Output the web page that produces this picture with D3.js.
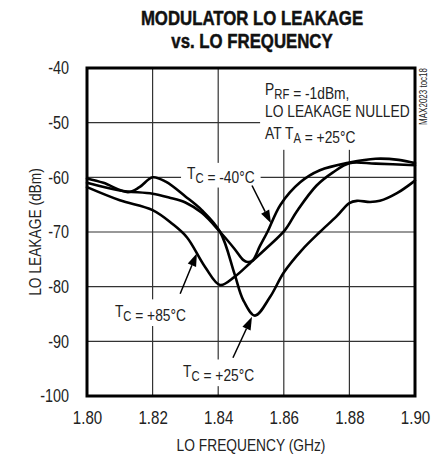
<!DOCTYPE html>
<html>
<head>
<meta charset="utf-8">
<script src="https://cdn.jsdelivr.net/npm/d3@7"></script>
<style>
  html, body { margin: 0; padding: 0; background: #fff; }
  svg { display: block; }
  text { font-family: "Liberation Sans", Arial, sans-serif; fill: #222; }
</style>
</head>
<body>
<svg id="chart" width="440" height="460"></svg>
<script>
// ---- data ----
const xTicks = [1.80, 1.82, 1.84, 1.86, 1.88, 1.90];
const yTicks = [-40, -50, -60, -70, -80, -90, -100];
const xTickLabels = ["1.80", "1.82", "1.84", "1.86", "1.88", "1.90"];
const yTickLabels = ["-40", "-50", "-60", "-70", "-80", "-90", "-100"];

// T_C = +25°C
const freq25 = [1.800, 1.805, 1.8125, 1.816, 1.820, 1.824, 1.830, 1.835, 1.8406, 1.845, 1.8476, 1.8512, 1.8558, 1.860, 1.8655, 1.871, 1.876, 1.880, 1.8823, 1.8863, 1.8893, 1.8945, 1.900];
const leak25 = [-60.2, -61.0, -62.7, -61.8, -60.0, -60.8, -63.5, -66.0, -70.0, -77.7, -82.4, -85.3, -81.9, -77.4, -73.3, -70.0, -67.2, -64.7, -64.3, -64.5, -64.3, -62.9, -60.6];

// T_C = -40°C
const freqM40 = [1.800, 1.810, 1.820, 1.825, 1.830, 1.835, 1.8406, 1.845, 1.8476, 1.849, 1.8505, 1.8527, 1.855, 1.859, 1.865, 1.871, 1.880, 1.888, 1.895, 1.900];
const leakM40 = [-61.0, -62.4, -63.0, -63.7, -64.6, -66.5, -70.0, -73.1, -75.1, -75.5, -75.2, -72.6, -70.0, -65.0, -60.9, -58.7, -57.3, -56.6, -56.8, -57.4];

// T_C = +85°C
const freq85 = [1.800, 1.810, 1.820, 1.826, 1.8305, 1.836, 1.8406, 1.845, 1.8497, 1.855, 1.8604, 1.864, 1.870, 1.875, 1.880, 1.888, 1.900];
const leak85 = [-61.8, -64.2, -66.0, -68.5, -71.0, -76.4, -79.7, -78.2, -75.7, -72.8, -69.6, -66.2, -61.5, -59.1, -57.4, -57.5, -57.8];

const seriesNames = ["+25", "-40", "+85"];

// ---- layout ----
const svg = d3.select("#chart");
const plot = { left: 87, right: 415, top: 68, bottom: 396 };
const x = d3.scaleLinear().domain([1.80, 1.90]).range([plot.left, plot.right]);
const y = d3.scaleLinear().domain([-100, -40]).range([plot.bottom, plot.top]);
const NARROW = 0.81;

// title
const title = svg.append("g").style("font-weight", "bold").style("font-size", "21px");
title.append("g").attr("transform", "translate(252,25) scale(0.8,1)")
  .append("text").attr("text-anchor", "middle").style("fill", "#111")
  .attr("stroke", "#111").attr("stroke-width", 0.5).text("MODULATOR LO LEAKAGE");
title.append("g").attr("transform", "translate(252,48) scale(0.8,1)")
  .append("text").attr("text-anchor", "middle").style("fill", "#111")
  .attr("stroke", "#111").attr("stroke-width", 0.5).text("vs. LO FREQUENCY");

// gridlines
const grid = svg.append("g");
grid.selectAll(".vg").data(xTicks.slice(1, -1)).enter().append("line")
  .attr("x1", d => x(d)).attr("x2", d => x(d))
  .attr("y1", plot.top).attr("y2", plot.bottom)
  .attr("stroke", "#333").attr("stroke-width", 1.2);
grid.selectAll(".hg").data(yTicks.slice(1, -1)).enter().append("line")
  .attr("y1", d => y(d)).attr("y2", d => y(d))
  .attr("x1", plot.left).attr("x2", plot.right)
  .attr("stroke", "#333").attr("stroke-width", 1.2);

// layers
const boxLayer = svg.append("g");
const curveLayer = svg.append("g");
const textLayer = svg.append("g");

function addLabel(g, xv, yv, parts, size) {
  const wrap = g.append("g").attr("transform", `translate(${x(xv)},${y(yv)}) scale(${NARROW},1)`);
  const t = wrap.append("text").style("font-size", size + "px");
  parts.forEach(p => {
    if (p.sub) {
      t.append("tspan").attr("dy", 4).style("font-size", (size * 0.82) + "px").text(p.sub);
      t.append("tspan").attr("dy", -4).text("");
    } else {
      t.append("tspan").text(p.t);
    }
  });
  return wrap;
}
function whiteBox(node, padX, padY, extra) {
  const b = node.getBBox();
  const e = extra || {};
  boxLayer.append("rect")
    .attr("x", b.x - padX - (e.l || 0)).attr("y", b.y - padY - (e.t || 0))
    .attr("width", b.width + 2 * padX + (e.l || 0) + (e.r || 0))
    .attr("height", b.height + 2 * padY + (e.t || 0) + (e.b || 0))
    .attr("fill", "#fff");
}

// conditions block
const cond = textLayer.append("g");
addLabel(cond, 1.8543, -44.9, [{t: "P"}, {sub: "RF"}, {t: " = -1dBm,"}], 17);
addLabel(cond, 1.8543, -48.9, [{t: "LO LEAKAGE NULLED"}], 17);
addLabel(cond, 1.8543, -52.9, [{t: "AT T"}, {sub: "A"}, {t: " = +25°C"}], 17);
whiteBox(cond.node(), 5, 4, {t: 10});

// curve labels
const lM40 = textLayer.append("g");
addLabel(lM40, 1.8305, -60.35, [{t: "T"}, {sub: "C"}, {t: " = -40°C"}], 17);
whiteBox(lM40.node(), 6, 1);
const l85 = textLayer.append("g");
addLabel(l85, 1.8085, -85.5, [{t: "T"}, {sub: "C"}, {t: " = +85°C"}], 17);
whiteBox(l85.node(), 5, 2);
const l25 = textLayer.append("g");
addLabel(l25, 1.8293, -96.5, [{t: "T"}, {sub: "C"}, {t: " = +25°C"}], 17);
whiteBox(l25.node(), 5, 2);

// curves
const line = d3.line().x(d => x(d[0])).y(d => y(d[1])).curve(d3.curveCatmullRom.alpha(0.5));
const series = [d3.zip(freq25, leak25), d3.zip(freqM40, leakM40), d3.zip(freq85, leak85)];
curveLayer.selectAll("path").data(series).enter().append("path")
  .attr("d", line).attr("fill", "none").attr("stroke", "#000")
  .attr("stroke-width", 2.6).attr("stroke-linejoin", "round").attr("stroke-linecap", "round");

// arrows (data coordinates)
const arrows = [
  { from: [1.8503, -61.5], to: [1.8561, -68.4] },
  { from: [1.8284, -81.3], to: [1.8335, -73.9] },
  { from: [1.8445, -93.0], to: [1.8503, -85.5] }
];
const arrowG = svg.append("g");
arrows.forEach(a => {
  const x1 = x(a.from[0]), y1 = y(a.from[1]), x2 = x(a.to[0]), y2 = y(a.to[1]);
  const ang = Math.atan2(y2 - y1, x2 - x1);
  const L = 13, W = 4.5;
  const bx = x2 - L * Math.cos(ang), by = y2 - L * Math.sin(ang);
  arrowG.append("line").attr("x1", x1).attr("y1", y1).attr("x2", bx).attr("y2", by)
    .attr("stroke", "#000").attr("stroke-width", 1.5);
  const px = -Math.sin(ang) * W, py = Math.cos(ang) * W;
  arrowG.append("path")
    .attr("d", `M${x2},${y2}L${bx + px},${by + py}L${bx - px},${by - py}Z`)
    .attr("fill", "#000");
});

// border
svg.append("rect").attr("x", plot.left).attr("y", plot.top)
  .attr("width", plot.right - plot.left).attr("height", plot.bottom - plot.top)
  .attr("fill", "none").attr("stroke", "#000").attr("stroke-width", 3);

// axes
const xAxis = d3.axisBottom(x).tickValues(xTicks).tickSize(0).tickPadding(15)
  .tickFormat((d, i) => xTickLabels[i]);
const gx = svg.append("g").attr("transform", `translate(0,${plot.bottom})`).call(xAxis);
gx.select(".domain").remove();
gx.selectAll("text").style("font-size", "18px").style("font-family", null).attr("fill", "#222")
  .attr("transform", "scale(0.84,1)");

const yPad = 18, yScaleX = 0.8;
const yAxis = d3.axisLeft(y).tickValues(yTicks).tickSize(0).tickPadding(yPad)
  .tickFormat((d, i) => yTickLabels[i]);
const gy = svg.append("g").attr("transform", `translate(${plot.left},0)`).call(yAxis);
gy.select(".domain").remove();
gy.selectAll("text").style("font-size", "18px").style("font-family", null).attr("fill", "#222")
  .attr("x", -yPad / yScaleX).attr("transform", `scale(${yScaleX},1)`);

// axis titles
svg.append("g").attr("transform", `translate(251,451) scale(${NARROW},1)`)
  .append("text").attr("text-anchor", "middle").style("font-size", "17px").text("LO FREQUENCY (GHz)");
svg.append("g").attr("transform", `translate(41,${(plot.top + plot.bottom) / 2}) rotate(-90) scale(${NARROW},1)`)
  .append("text").attr("text-anchor", "middle").style("font-size", "17px").text("LO LEAKAGE (dBm)");

// figure code
svg.append("g").attr("transform", `translate(427,${plot.top}) rotate(-90) scale(0.8,1)`)
  .append("text").attr("text-anchor", "end").style("font-size", "10px").text("MAX2023 toc18");
</script>
</body>
</html>
